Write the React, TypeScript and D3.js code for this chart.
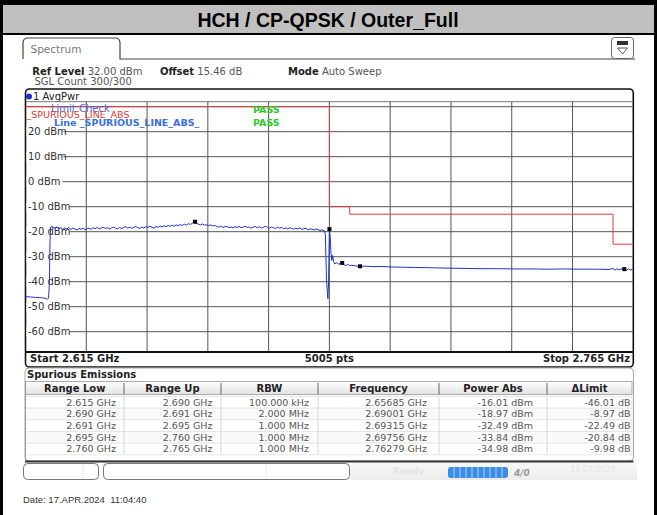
import React from 'react';
import * as d3 from 'd3';

// sweep settings
const startGHz = 2.615;
const stopGHz = 2.765;
const refLevel = 32;
const bottomLevel = -68;
const gridLevels = [30, 20, 10, 0, -10, -20, -30, -40, -50, -60];
const labelLevels = [20, 10, 0, -10, -20, -30, -40, -50, -60];

// spurious emission table
const rangeLow = [2.615, 2.69, 2.691, 2.695, 2.76];
const rangeUp = [2.69, 2.691, 2.695, 2.76, 2.765];
const limitDbm = [30, -10, -10, -13, -25];
const rbwText = ['100.000 kHz', '2.000 MHz', '1.000 MHz', '1.000 MHz', '1.000 MHz'];
const peakGHz = [2.65685, 2.69001, 2.69315, 2.69756, 2.76279];
const peakDbm = [-16.01, -18.97, -32.49, -33.84, -34.98];
const deltaLimit = [-46.01, -8.97, -22.49, -20.84, -9.98];
const headers = ['Range Low', 'Range Up', 'RBW', 'Frequency', 'Power Abs', '\u0394Limit'];

// trace: floor left of the carrier
const floorLeft: [number, number][] = [
  [2.615, -46.0], [2.6162, -46.1], [2.6175, -46.3], [2.6188, -46.4],
  [2.6198, -46.6], [2.6204, -47.0], [2.6207, -46.6], [2.6209, -40.0], [2.62105, -24.0],
];
// trace: carrier top, even 0.5 MHz spacing from bandStartGHz
const bandStartGHz = 2.6212;
const bandStepGHz = 0.0005;
const bandDbm = [
  -18.2, -17.9, -18.6, -18.1, -18.8, -18.4, -19.0, -18.5, -18.9, -18.3,
  -19.1, -18.6, -18.9, -19.3, -18.7, -19.0, -18.5, -19.2, -18.8, -18.6,
  -19.0, -18.4, -18.8, -18.3, -18.9, -18.5, -18.2, -18.7, -18.4, -18.9,
  -18.5, -18.1, -18.6, -18.9, -18.3, -18.7, -18.4, -18.0, -18.5, -18.2,
  -18.6, -18.3, -17.9, -18.4, -18.7, -18.2, -18.5, -18.0, -18.3, -17.8,
  -18.2, -18.6, -17.9, -18.3, -17.7, -18.1, -17.6, -18.0, -17.5, -17.9,
  -17.4, -17.8, -17.3, -17.6, -17.2, -17.5, -17.0, -17.4, -16.8, -17.1,
  -16.6, -16.1, -16.7, -17.0, -17.3, -16.9, -17.4, -17.2, -17.6, -17.3,
  -17.7, -17.5, -17.9, -18.2, -17.8, -18.3, -18.0, -17.9, -18.4, -18.1,
  -18.5, -18.0, -18.3, -17.9, -18.4, -18.2, -17.8, -18.3, -18.1, -18.6,
  -18.2, -17.9, -18.4, -18.0, -18.5, -18.3, -17.8, -18.2, -18.6, -18.1,
  -18.4, -18.7, -18.2, -18.6, -18.3, -18.8, -18.5, -18.9, -18.4, -18.7,
  -19.0, -18.6, -18.9, -18.5, -19.1, -18.8, -18.6, -19.2, -18.9, -19.0,
  -19.3, -18.9, -19.2, -19.5, -19.3, -19.6,
];
// trace: band edge and the region above it
const tailRight: [number, number][] = [
  [2.689, -21.0], [2.6893, -40.0], [2.68963, -46.8], [2.6898, -40.0], [2.68995, -25.0],
  [2.69001, -18.97], [2.6902, -22.0], [2.6904, -28.8], [2.6906, -31.5], [2.6908, -29.5],
  [2.691, -31.8], [2.6913, -32.9], [2.6918, -32.4], [2.6923, -33.0], [2.6928, -32.6],
  [2.69315, -32.49], [2.6935, -33.2], [2.694, -33.5], [2.6945, -33.1], [2.695, -33.6],
  [2.6955, -33.4], [2.6965, -33.7], [2.69756, -33.84], [2.699, -33.8], [2.701, -34.0],
  [2.703, -33.9], [2.705, -34.1], [2.708, -34.2], [2.711, -34.3], [2.714, -34.4],
  [2.717, -34.5], [2.72, -34.6], [2.724, -34.7], [2.728, -34.8], [2.732, -34.8],
  [2.736, -34.9], [2.74, -34.9], [2.744, -35.0], [2.748, -34.9], [2.752, -35.0],
  [2.756, -35.0], [2.759, -35.1], [2.76, -34.7], [2.7605, -35.4], [2.761, -34.8],
  [2.7615, -35.3], [2.762, -34.9], [2.76279, -34.98], [2.7633, -35.4], [2.7638, -34.8],
  [2.7643, -35.3], [2.7648, -35.0], [2.765, -35.2],
];

const sans = '"DejaVu Sans", Verdana, sans-serif';
const arial = '"Liberation Sans", Arial, sans-serif';

const App = () => {
  const plotLeft = 25.5;
  const plotRight = 633.3;
  const plotTop = 101.7;
  const plotBottom = 351.7;

  const x = d3.scaleLinear().domain([startGHz, stopGHz]).range([plotLeft, plotRight]);
  const y = d3.scaleLinear().domain([refLevel, bottomLevel]).range([plotTop, plotBottom]);

  const xGrid = d3.range(1, 10).map((i) => startGHz + ((stopGHz - startGHz) * i) / 10);

  const trace: [number, number][] = [
    ...floorLeft,
    ...bandDbm.map((v, i) => [bandStartGHz + i * bandStepGHz, v] as [number, number]),
    ...tailRight,
  ];
  const line = d3
    .line<[number, number]>()
    .x((d) => x(d[0]))
    .y((d) => y(d[1]));

  const limitPts: [number, number][] = [];
  rangeLow.forEach((lo, i) => {
    limitPts.push([lo, limitDbm[i]]);
    limitPts.push([rangeUp[i], limitDbm[i]]);
  });

  // table layout
  const colEdges = [25.5, 124, 221, 318, 439, 547, 632];
  const colTextRight = [116, 212.5, 309, 427, 533, 630.5];
  const rowMid = [402.3, 414, 425.7, 437.3, 449];
  const rows = rangeLow.map((lo, i) => [
    `${lo.toFixed(3)} GHz`,
    `${rangeUp[i].toFixed(3)} GHz`,
    rbwText[i],
    `${peakGHz[i].toFixed(5)} GHz`,
    `${peakDbm[i].toFixed(2)} dBm`,
    `${deltaLimit[i].toFixed(2)} dB`,
  ]);

  return (
    <div style={{ position: 'fixed', left: 0, top: 0 }}>
      <svg width={657} height={515} style={{ display: 'block', background: '#fff' }}>
        <defs>
          <linearGradient id="hdr" x1="0" y1="0" x2="0" y2="1">
            <stop offset="0" stopColor="#ffffff" />
            <stop offset="1" stopColor="#e2e2e2" />
          </linearGradient>
          <linearGradient id="status" x1="0" y1="0" x2="0" y2="1">
            <stop offset="0" stopColor="#f7f7f7" />
            <stop offset="1" stopColor="#ececec" />
          </linearGradient>
        </defs>

        {/* outer frame and title */}
        <rect x={0} y={0} width={657} height={5} fill="#000" />
        <rect x={0} y={0} width={3} height={515} fill="#000" />
        <rect x={654} y={0} width={3} height={515} fill="#000" />
        <rect x={3} y={5} width={651} height={28} fill="#c0c0c0" />
        <rect x={3} y={33} width={651} height={2} fill="#000" />
        <text x={328} y={26.5} textAnchor="middle" fontFamily={arial} fontWeight="bold" fontSize={19.5} fill="#000">
          HCH / CP-QPSK / Outer_Full
        </text>

        {/* tab */}
        <path d="M23,59 V43 Q23,38 28,38 H115 Q120,38 120,43 V59 H635" fill="none" stroke="#444" strokeWidth={1.2} />
        <text x={30.5} y={53} fontFamily={sans} fontSize={10.5} fill="#7a7a7a">Spectrum</text>
        <rect x={611.5} y={37.5} width={22} height={21} rx={3} fill="#fff" stroke="#666" />
        <rect x={617} y={41} width={11} height={4} fill="#333" />
        <path d="M617.5,48 H627.5 L622.5,54 Z" fill="none" stroke="#444" strokeWidth={0.9} />

        <text x={32.3} y={74.5} fontFamily={sans} fontSize={10} fill="#555">
          <tspan fontWeight="bold" fill="#222">Ref Level</tspan> 32.00 dBm
        </text>
        <text x={160} y={74.5} fontFamily={sans} fontSize={10} fill="#555">
          <tspan fontWeight="bold" fill="#222">Offset</tspan> 15.46 dB
        </text>
        <text x={288} y={74.5} fontFamily={sans} fontSize={10} fill="#555">
          <tspan fontWeight="bold" fill="#222">Mode</tspan> Auto Sweep
        </text>
        <text x={34.5} y={85} fontFamily={sans} fontSize={10} fill="#555">SGL Count 300/300</text>

        {/* diagram box */}
        <rect x={plotLeft} y={89} width={plotRight - plotLeft} height={278} rx={4} fill="#fff" stroke="#111" strokeWidth={1.6} />
        <circle cx={29} cy={96.5} r={3} fill="#2233cc" />
        <text x={33} y={100} fontFamily={sans} fontSize={10} fill="#222">1 AvgPwr</text>
        <line x1={plotLeft} x2={plotRight} y1={plotTop} y2={plotTop} stroke="#777" />

        {/* grid */}
        {xGrid.map((f) => (
          <line key={f} x1={x(f)} x2={x(f)} y1={plotTop} y2={plotBottom} stroke="#555" />
        ))}
        {gridLevels.map((v) => (
          <line key={v} x1={plotLeft} x2={plotRight} y1={y(v)} y2={y(v)} stroke="#555" />
        ))}
        {labelLevels.map((v) => (
          <g key={v}>
            <rect x={26.5} y={y(v) - 5} width={v < 0 ? 43 : v === 0 ? 36 : 37} height={10} fill="#fff" />
            <text x={28} y={y(v) + 3.6} fontFamily={sans} fontSize={10} fill="#333">{`${v} dBm`}</text>
          </g>
        ))}

        {/* limit line */}
        <path d={line(limitPts) ?? ''} fill="none" stroke="#e23a3a" strokeWidth={1} />

        {/* legend */}
        <text x={51} y={112} fontFamily={sans} fontSize={10} fill="#4a6ad8">Limit Check</text>
        <text x={26.5} y={117.5} fontFamily={sans} fontSize={9.5} fill="#e03a3a">_SPURIOUS_LINE_ABS</text>
        <text x={54} y={126} fontFamily={sans} fontSize={9.5} fontWeight="bold" fill="#3b6fe0">Line _SPURIOUS_LINE_ABS_</text>
        <text x={253} y={112.5} fontFamily={sans} fontSize={9.5} fontWeight="bold" fill="#2ec82e">PASS</text>
        <text x={253} y={126} fontFamily={sans} fontSize={9.5} fontWeight="bold" fill="#2ec82e">PASS</text>

        {/* trace */}
        <path d={line(trace) ?? ''} fill="none" stroke="#2233cc" strokeWidth={1} />
        {peakGHz.map((f, i) => (
          <rect key={f} x={x(f) - 2} y={y(peakDbm[i]) - 2} width={4} height={4} fill="#000" />
        ))}

        {/* footer of diagram */}
        <line x1={plotLeft} x2={plotRight} y1={352} y2={352} stroke="#111" strokeWidth={2} />
        <text x={30} y={361.8} fontFamily={sans} fontSize={10} fontWeight="bold" fill="#222">Start 2.615 GHz</text>
        <text x={(plotLeft + plotRight) / 2} y={361.8} textAnchor="middle" fontFamily={sans} fontSize={10} fontWeight="bold" fill="#222">5005 pts</text>
        <text x={630} y={361.8} textAnchor="end" fontFamily={sans} fontSize={10} fontWeight="bold" fill="#222">Stop 2.765 GHz</text>

        {/* spurious emissions table */}
        <rect x={25} y={368} width={608.5} height={93} rx={4} fill="#fff" stroke="#aaa" />
        <line x1={25} x2={633.5} y1={461.5} y2={461.5} stroke="#333" strokeWidth={2} />
        <text x={27} y={377.8} fontFamily={sans} fontSize={10} fontWeight="bold" fill="#222">Spurious Emissions</text>
        <rect x={colEdges[0]} y={381.5} width={colEdges[6] - colEdges[0]} height={13} fill="url(#hdr)" stroke="#999" strokeWidth={0.8} />
        {headers.map((h, i) => (
          <text key={h} x={(colEdges[i] + colEdges[i + 1]) / 2} y={391.8} textAnchor="middle" fontFamily={sans} fontSize={10} fontWeight="bold" fill="#222">{h}</text>
        ))}
        {colEdges.slice(1, 6).map((cx) => (
          <line key={cx} x1={cx} x2={cx} y1={383} y2={394.5} stroke="#666" />
        ))}
        {rowMid.map((ym, r) => (
          <g key={ym}>
            <rect x={colEdges[0]} y={ym - 5.85} width={colEdges[6] - colEdges[0]} height={11.7} fill={r % 2 ? '#fafafa' : '#fff'} stroke="#e2e2e2" strokeWidth={0.8} />
            {colEdges.slice(1, 6).map((cx) => (
              <line key={cx} x1={cx} x2={cx} y1={ym - 5.85} y2={ym + 5.85} stroke="#d6d6d6" />
            ))}
            {rows[r].map((t, c) => (
              <text key={c} x={colTextRight[c]} y={ym + 3.4} textAnchor="end" fontFamily={sans} fontSize={9.5} fill="#555">{t}</text>
            ))}
          </g>
        ))}
        <line x1={colEdges[0]} x2={colEdges[0]} y1={381.5} y2={461} stroke="#999" />

        {/* status bar */}
        <rect x={23.5} y={463.5} width={75} height={16} rx={4} fill="#fff" stroke="#777" />
        <line x1={83} x2={83} y1={465} y2={478} stroke="#e6e6e6" />
        <rect x={103.5} y={463.5} width={246} height={16} rx={4} fill="#fff" stroke="#777" />
        <line x1={266} x2={266} y1={465} y2={478} stroke="#eee" />
        <rect x={350} y={463} width={287} height={17} fill="url(#status)" />
        <text x={393} y={474} fontFamily={sans} fontSize={9} fontWeight="bold" fill="#e4e4e4">Ready</text>
        <rect x={448} y={467} width={60} height={11} rx={3} fill="#3a8ee6" />
        {d3.range(1, 10).map((i) => (
          <line key={i} x1={448 + i * 6} x2={448 + i * 6} y1={467} y2={478} stroke="#cfe4fa" strokeWidth={0.8} />
        ))}
        <text x={514} y={476} fontFamily={sans} fontSize={9} fontWeight="bold" fontStyle="italic" fill="#999">4/0</text>
        <text x={570} y={472} fontFamily={sans} fontSize={8} fill="#e6e6e6">17.04.2024</text>

        <text x={23} y={502.5} fontFamily={arial} fontSize={9.5} fill="#333" style={{ whiteSpace: 'pre' }}>
          Date: 17.APR.2024  11:04:40
        </text>
      </svg>
    </div>
  );
};

export default App;
